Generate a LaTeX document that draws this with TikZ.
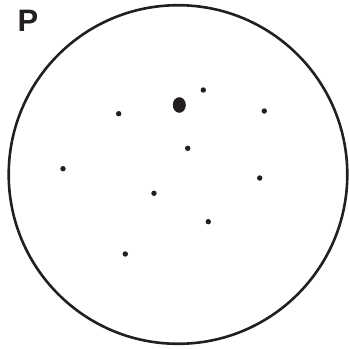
\documentclass[tikz,border=0pt]{standalone}
\usepackage{fontspec}
\setmainfont{Liberation Sans}
\definecolor{ink}{HTML}{231F20}
\tikzset{
  rim/.style={draw=ink, line width=2.6pt},
  speck/.style={fill=ink},
  lbl/.style={text=ink, font=\bfseries\fontsize{31}{31}\selectfont, inner sep=0pt, anchor=base west}
}
\begin{document}
\begin{tikzpicture}[x=1pt,y=-1pt]
\useasboundingbox (0,0) rectangle (349,349);
\draw[rim] (178,174.5) circle[radius=169.3];
\node[lbl] (P) at (17.5,31.8) {P};
\fill[speck] (179.3,105) ellipse[x radius=6.5, y radius=7.8];
\foreach \x/\y in {203.3/90, 118.7/113.7, 264.3/111, 187.7/148.3, 63/168.7, 259.7/178, 154/193.3, 208.3/221.7, 125.3/254}
  \fill[speck] (\x,\y) circle[radius=2.7];
\end{tikzpicture}
\end{document}
